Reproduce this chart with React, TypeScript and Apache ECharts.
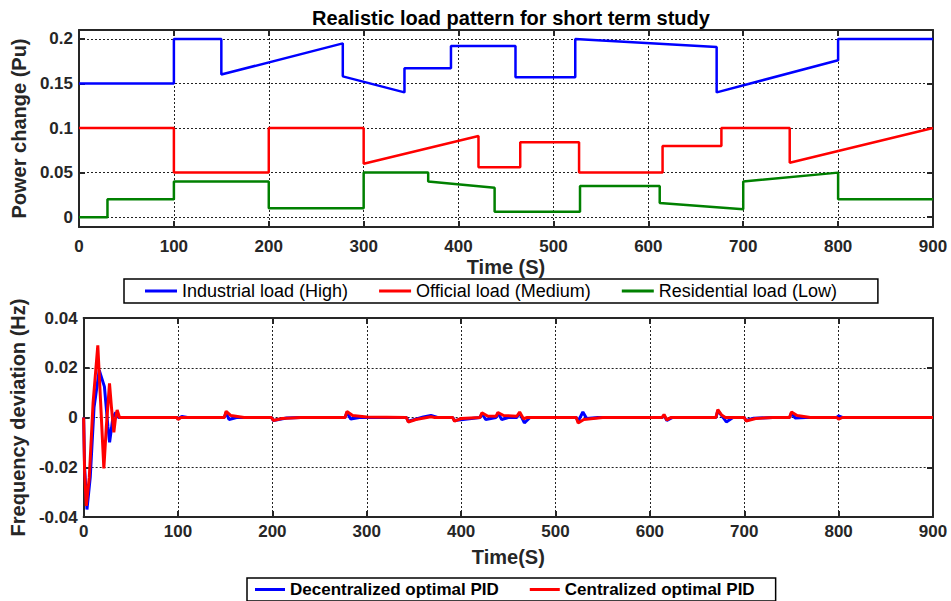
import React, { useEffect, useRef } from "react";
import * as echarts from "echarts";

// ---------- Top chart: load patterns ----------
const industrialT = [0, 100, 100, 150, 150, 278, 278, 343, 343, 392, 392, 460, 460, 523, 523, 672, 672, 800, 800, 900];
const industrialP = [0.15, 0.15, 0.2, 0.2, 0.16, 0.195, 0.158, 0.14, 0.167, 0.167, 0.192, 0.192, 0.157, 0.157, 0.2, 0.191, 0.14, 0.176, 0.2, 0.2];

const officialT = [0, 100, 100, 200, 200, 300, 300, 421, 421, 465, 465, 527, 527, 615, 615, 677, 677, 749, 749, 900];
const officialP = [0.1, 0.1, 0.05, 0.05, 0.1, 0.1, 0.06, 0.091, 0.056, 0.056, 0.084, 0.084, 0.05, 0.05, 0.08, 0.08, 0.1, 0.1, 0.061, 0.1];

const residentialT = [0, 30, 30, 100, 100, 200, 200, 300, 300, 368, 368, 438, 438, 528, 528, 612, 612, 700, 700, 800, 800, 900];
const residentialP = [0, 0, 0.02, 0.02, 0.04, 0.04, 0.01, 0.01, 0.05, 0.05, 0.04, 0.033, 0.006, 0.006, 0.035, 0.035, 0.016, 0.009, 0.04, 0.05, 0.02, 0.02];

// ---------- Bottom chart: frequency deviation ----------
const decT = [0, 1, 3.5, 7, 11, 16.5, 22, 25.7, 27.5, 31, 34, 37, 40, 99, 100, 104, 110, 149, 151, 154, 162, 199, 201, 215, 230, 277, 279, 283, 292, 342, 344, 360, 368, 375, 391, 393, 420, 422, 426, 437, 439, 443, 450, 459, 462, 467, 473, 522, 524, 529, 533, 545, 613, 615, 618, 624, 670, 672, 678, 681, 688, 700, 702, 710, 730, 748, 750, 754, 765, 798, 800, 804, 900];
const decF = [0, -0.02, -0.037, -0.024, 0.004, 0.019, 0.0124, -0.0036, -0.01, 0.0, 0.002, 0, 0, 0, -0.0006, 0.0004, 0, 0, 0.002, -0.0008, 0, 0, -0.0012, -0.0002, 0, 0, 0.002, -0.0006, 0, 0, -0.0015, 0.0002, 0.0008, 0, 0, -0.0012, 0, 0.0016, -0.0008, 0, 0.0018, -0.0008, 0, 0, 0.0018, -0.0022, 0, 0, -0.0015, 0.0022, -0.0004, 0, 0, 0.0008, -0.0012, 0, 0, 0.0028, -0.0002, -0.0018, 0, 0, -0.0012, -0.0003, 0, 0, 0.0018, -0.0002, 0, 0, 0.0006, 0, 0];

const cenT = [0, 1, 2.8, 6, 10, 15, 18, 21.4, 24, 27.4, 29.5, 32, 33.5, 35.5, 38, 40, 99, 100, 103, 149, 151, 156, 170, 199, 201, 210, 230, 277, 279, 285, 300, 342, 344, 352, 368, 372, 391, 393, 400, 420, 422, 428, 437, 439, 445, 459, 462, 466, 470, 522, 524, 530, 550, 613, 615, 618, 622, 670, 672, 676, 680, 700, 702, 712, 730, 748, 750, 756, 770, 798, 800, 804, 900];
const cenF = [0, -0.022, -0.0355, -0.024, 0.006, 0.029, 0.006, -0.0205, -0.004, 0.0137, 0.004, -0.006, -0.001, 0.003, 0, 0, 0, -0.0008, 0, 0, 0.0025, 0.0008, 0, 0, -0.0012, -0.0004, 0, 0, 0.0024, 0.0008, 0.0002, 0, -0.0018, -0.0008, 0.0003, 0, 0, -0.0015, -0.0004, 0, 0.0019, 0.0006, 0.0005, 0.002, 0.0008, 0.0005, 0.0022, -0.0005, 0, 0, -0.0022, -0.0008, 0, 0, 0.0012, -0.001, 0, 0, 0.0032, 0.001, 0, 0, -0.0014, -0.0004, 0, 0, 0.0022, 0.0008, 0, 0, -0.0007, 0, 0];

const xTicks = [0, 100, 200, 300, 400, 500, 600, 700, 800, 900];
const topYTicks = [0, 0.05, 0.1, 0.15, 0.2];

const FONT = "Liberation Sans";
const AXIS_COLOR = "#262626";

const pairs = (t: number[], v: number[]) => t.map((x, i) => [x, v[i]]);

const labelStyle = (margin: number) => ({
  color: AXIS_COLOR,
  fontSize: 17,
  fontWeight: "bold" as const,
  fontFamily: FONT,
  margin,
});
const nameStyle = {
  color: AXIS_COLOR,
  fontSize: 20,
  fontWeight: "bold" as const,
  fontFamily: FONT,
};
const axisLine = { show: true, onZero: false, lineStyle: { color: AXIS_COLOR, width: 2 } };
const tick = { show: true, inside: true, length: 6, lineStyle: { color: AXIS_COLOR, width: 2 } };
const split = { show: true, lineStyle: { color: "#222", width: 1, type: [2, 2] as number[] } };

export default function App() {
  const ref = useRef<HTMLDivElement>(null);
  useEffect(() => {
    const chart = echarts.init(ref.current!, null, { renderer: "svg" });
    const option: any = {
      animation: false,
      backgroundColor: "#fff",
      title: {
        text: "Realistic load pattern for short term study",
        left: 506,
        textAlign: "center",
        top: 3,
        textStyle: { fontSize: 20, fontWeight: "bold", fontFamily: FONT, color: "#000" },
      },
      grid: [
        { left: 79, right: 18, top: 30, height: 197 },
        { left: 79, right: 18, top: 318, height: 199 },
      ],
      xAxis: [
        {
          type: "value", gridIndex: 0, min: 0, max: 900, interval: 100,
          axisLine, axisTick: tick, splitLine: split,
          axisLabel: labelStyle(11),
          name: "Time (S)", nameLocation: "middle", nameGap: 30, nameTextStyle: nameStyle,
        },
        {
          type: "value", gridIndex: 0, min: 0, max: 900, interval: 100, position: "top",
          axisLine, axisTick: tick, splitLine: { show: false }, axisLabel: { show: false },
        },
        {
          type: "value", gridIndex: 1, min: 0, max: 900, interval: 100,
          axisLine, axisTick: tick, splitLine: split,
          axisLabel: labelStyle(6),
          name: "Time(S)", nameLocation: "middle", nameGap: 30, nameTextStyle: nameStyle,
        },
        {
          type: "value", gridIndex: 1, min: 0, max: 900, interval: 100, position: "top",
          axisLine, axisTick: tick, splitLine: { show: false }, axisLabel: { show: false },
        },
      ],
      yAxis: [
        {
          type: "value", gridIndex: 0, min: -0.011, max: 0.21,
          axisLine,
          axisTick: { ...tick, customValues: topYTicks },
          axisLabel: { ...labelStyle(6), customValues: topYTicks, formatter: (v: number) => String(+v.toFixed(3)) },
          splitLine: split,
          name: "Power change (Pu)", nameLocation: "middle", nameGap: 47, nameTextStyle: nameStyle,
        },
        {
          type: "value", gridIndex: 0, min: -0.011, max: 0.21, position: "right",
          axisLine,
          axisTick: { ...tick, customValues: topYTicks },
          axisLabel: { show: false },
          splitLine: { show: false },
        },
        {
          type: "value", gridIndex: 1, min: -0.04, max: 0.04, interval: 0.02,
          axisLine, axisTick: tick, splitLine: split,
          axisLabel: { ...labelStyle(6), formatter: (v: number) => String(+v.toFixed(3)) },
          name: "Frequency deviation (Hz)", nameLocation: "middle", nameGap: 47, nameTextStyle: nameStyle,
        },
        {
          type: "value", gridIndex: 1, min: -0.04, max: 0.04, interval: 0.02, position: "right",
          axisLine, axisTick: tick, splitLine: { show: false }, axisLabel: { show: false },
        },
      ],
      legend: [
        {
          data: ["Industrial load (High)", "Official load (Medium)", "Residential load (Low)"],
          left: 124, top: 279,
          padding: [3, 41, 3, 21],
          itemGap: 31, itemWidth: 32, itemHeight: 3, icon: "rect",
          borderColor: "#000", borderWidth: 1.5, backgroundColor: "#fff",
          textStyle: { fontSize: 18, color: "#000", fontFamily: FONT },
        },
        {
          data: ["Decentralized optimal PID", "Centralized optimal PID"],
          left: 247, top: 578,
          padding: [3, 21, 3, 8],
          itemGap: 31, itemWidth: 30, itemHeight: 3, icon: "rect",
          borderColor: "#000", borderWidth: 1.5, backgroundColor: "#fff",
          textStyle: { fontSize: 17, fontWeight: "bold", color: "#000", fontFamily: FONT },
        },
      ],
      series: [
        {
          name: "Industrial load (High)", type: "line", xAxisIndex: 0, yAxisIndex: 0,
          data: pairs(industrialT, industrialP), showSymbol: false, color: "#0000ff",
          lineStyle: { width: 2.5, color: "#0000ff" },
        },
        {
          name: "Official load (Medium)", type: "line", xAxisIndex: 0, yAxisIndex: 0,
          data: pairs(officialT, officialP), showSymbol: false, color: "#ff0000",
          lineStyle: { width: 2.5, color: "#ff0000" },
        },
        {
          name: "Residential load (Low)", type: "line", xAxisIndex: 0, yAxisIndex: 0,
          data: pairs(residentialT, residentialP), showSymbol: false, color: "#008000",
          lineStyle: { width: 2.5, color: "#008000" },
        },
        {
          name: "Decentralized optimal PID", type: "line", xAxisIndex: 2, yAxisIndex: 2,
          data: pairs(decT, decF), showSymbol: false, color: "#0000ff",
          lineStyle: { width: 3, color: "#0000ff" },
        },
        {
          name: "Centralized optimal PID", type: "line", xAxisIndex: 2, yAxisIndex: 2,
          data: pairs(cenT, cenF), showSymbol: false, color: "#ff0000",
          lineStyle: { width: 3, color: "#ff0000" },
        },
      ],
    };
    chart.setOption(option);
    return () => chart.dispose();
  }, []);
  return (
    <div
      ref={ref}
      style={{ position: "absolute", left: 0, top: 0, width: 951, height: 601, background: "#fff" }}
    />
  );
}
